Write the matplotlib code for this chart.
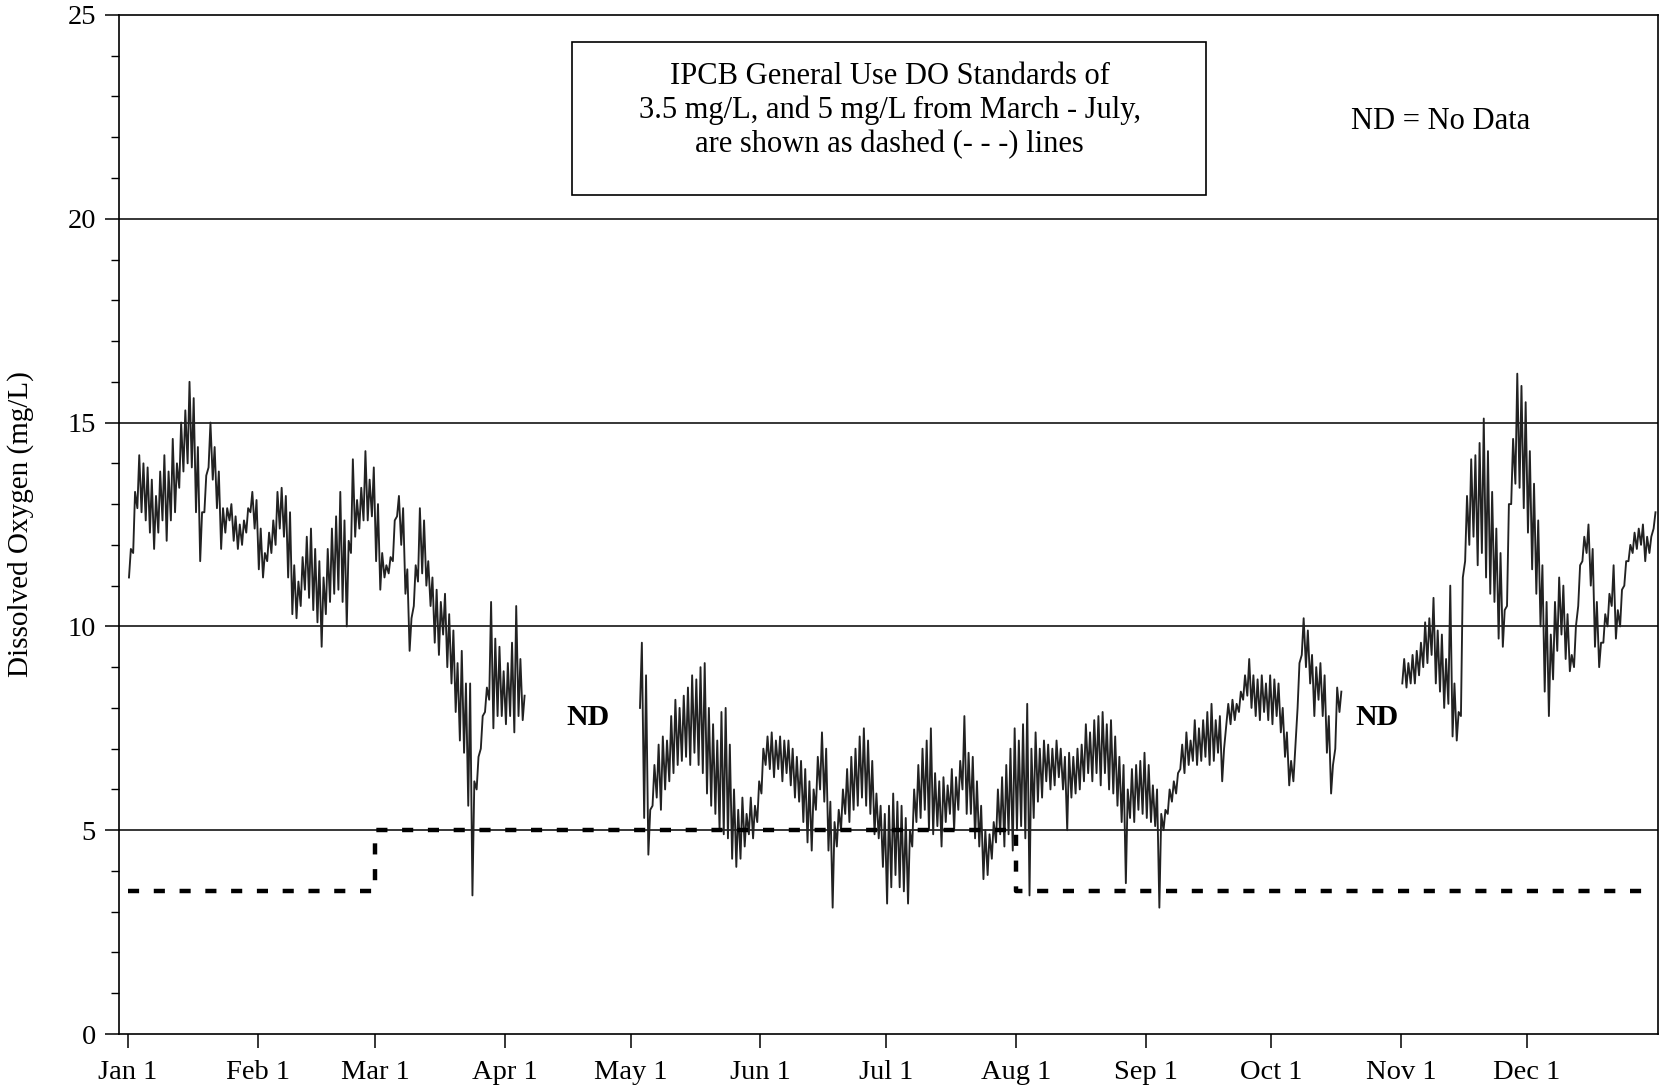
import numpy as np
import matplotlib
matplotlib.use("Agg")
import matplotlib.pyplot as plt
from matplotlib.patches import Rectangle

plt.rcParams['font.family'] = ['Liberation Serif', 'DejaVu Serif']

# ---- data: daily low / high dissolved oxygen (mg/L) ----
seg1_start = 0      # Jan 1
seg1_low = [11.2, 11.8, 12.9, 12.8, 12.6, 12.3, 11.9, 12.3, 12.6, 12.1,
            12.6, 12.8, 13.4, 13.8, 14.0, 13.9, 12.8, 11.6, 12.8, 13.9,
            13.6, 12.9, 11.9, 12.3, 12.6, 12.1, 11.9, 12.0, 12.3, 12.8,
            12.4, 11.4, 11.2, 11.6, 11.8, 12.0, 12.4, 12.2, 11.2, 10.3,
            10.2, 10.5, 10.9, 10.7, 10.4, 10.1, 9.5, 10.3, 10.6, 10.8,
            10.9, 10.6, 10.0, 11.8, 12.2, 12.4, 12.6, 12.6, 12.7, 11.6,
            10.9, 11.2, 11.3, 11.6, 12.7, 12.0, 10.8, 9.4, 10.5, 11.1,
            11.3, 11.0, 10.5, 9.6, 9.3, 9.8, 9.0, 8.6, 7.9, 7.2,
            6.9, 5.6, 3.4, 6.0, 7.0, 7.9, 8.2, 7.5, 7.8, 7.8,
            7.6, 7.8, 7.4, 7.8, 7.7]
seg1_high = [11.9, 13.3, 14.2, 14.0, 13.9, 13.6, 13.2, 13.8, 14.2, 13.8,
             14.6, 14.0, 15.0, 15.3, 16.0, 15.6, 14.4, 12.8, 13.7, 15.0,
             14.4, 13.8, 12.9, 12.9, 13.0, 12.7, 12.5, 12.6, 12.9, 13.3,
             13.1, 12.4, 11.8, 12.3, 12.6, 13.3, 13.4, 13.2, 12.8, 11.5,
             11.1, 11.7, 12.2, 12.4, 11.9, 11.6, 11.2, 11.9, 12.4, 12.7,
             13.3, 12.6, 12.1, 14.1, 13.1, 13.4, 14.3, 13.6, 13.9, 13.0,
             11.8, 11.5, 11.7, 12.6, 13.2, 12.9, 11.4, 10.2, 11.5, 12.9,
             12.6, 11.6, 11.2, 10.9, 10.6, 10.8, 10.3, 9.9, 9.1, 9.4,
             8.6, 8.6, 6.2, 6.8, 7.8, 8.5, 10.6, 9.7, 9.5, 8.9,
             9.1, 9.6, 10.5, 9.2, 8.3]

seg2_start = 122    # May 3
seg2_low = [8.0, 5.3, 4.4, 5.6, 5.8, 5.5, 6.0, 6.2, 6.4, 6.6,
            6.7, 6.8, 6.6, 6.9, 6.6, 6.4, 5.9, 5.6, 5.4, 5.0,
            4.9, 4.8, 4.3, 4.1, 4.3, 4.6, 4.9, 4.8, 5.2, 5.9,
            6.6, 6.5, 6.3, 6.5, 6.2, 6.4, 6.1, 5.8, 5.7, 5.2,
            4.7, 4.5, 5.5, 6.0, 5.7, 4.5, 3.1, 4.6, 5.0, 5.4,
            5.2, 5.5, 5.6, 5.8, 5.6, 5.4, 4.9, 4.8, 4.1, 3.2,
            3.6, 3.9, 3.6, 3.5, 3.2, 4.6, 5.2, 5.3, 5.5, 5.0,
            4.9, 5.1, 4.6, 5.2, 5.4, 5.0, 5.5, 6.0, 5.4, 5.4,
            4.8, 4.6, 3.8, 3.9, 4.3, 4.7, 4.9, 4.6, 4.9, 4.5,
            5.0, 5.1, 4.8, 3.4, 5.3, 5.7, 5.8, 6.2, 6.0, 6.1,
            6.3, 6.0, 5.0, 5.8, 5.9, 6.0, 6.2, 6.4, 6.2, 6.4,
            6.1, 6.4, 6.0, 5.9, 5.6, 5.2, 3.7, 5.3, 5.2, 5.5,
            5.4, 5.3, 5.2, 5.1, 3.1, 5.0, 5.4, 5.7, 5.9, 6.5,
            6.4, 6.6, 6.7, 6.6, 6.7, 6.8, 6.6, 6.7, 6.9, 6.2,
            7.6, 7.6, 7.7, 7.9, 8.2, 8.3, 8.0, 7.8, 7.7, 7.9,
            7.7, 7.6, 7.8, 7.4, 6.8, 6.1, 6.2, 8.0, 9.3, 9.0,
            8.6, 7.8, 8.2, 7.8, 6.9, 5.9, 7.0, 7.9]
seg2_high = [9.6, 8.8, 5.5, 6.6, 7.1, 7.3, 7.2, 7.8, 8.2, 8.0,
             8.3, 8.5, 8.8, 8.7, 9.0, 9.1, 8.0, 7.6, 7.2, 7.9,
             8.0, 7.1, 6.0, 5.5, 5.8, 5.4, 5.8, 5.6, 6.2, 7.0,
             7.3, 7.4, 7.2, 7.3, 7.2, 7.2, 7.0, 6.8, 6.7, 6.5,
             6.2, 6.0, 6.8, 7.4, 7.0, 5.7, 5.2, 5.5, 6.0, 6.5,
             6.8, 7.0, 7.3, 7.5, 7.2, 6.7, 5.9, 5.6, 5.4, 5.6,
             5.9, 5.7, 5.6, 5.3, 5.0, 6.0, 6.6, 7.0, 7.2, 7.5,
             6.4, 6.2, 6.3, 6.1, 6.5, 6.3, 6.7, 7.8, 6.9, 6.8,
             6.2, 5.6, 5.0, 4.9, 5.2, 6.0, 6.3, 6.6, 7.0, 7.5,
             7.2, 7.6, 8.1, 7.0, 7.4, 7.0, 7.2, 7.1, 7.0, 7.2,
             7.0, 6.8, 6.9, 6.8, 7.0, 7.1, 7.6, 7.4, 7.7, 7.8,
             7.9, 7.6, 7.7, 7.3, 6.8, 6.6, 6.0, 6.5, 6.6, 6.7,
             6.9, 6.6, 6.1, 6.0, 5.4, 5.5, 6.0, 6.2, 6.4, 7.1,
             7.4, 7.2, 7.7, 7.5, 7.7, 7.9, 8.1, 7.7, 7.8, 7.0,
             8.1, 8.2, 8.1, 8.4, 8.8, 9.2, 8.8, 8.7, 8.8, 8.6,
             8.8, 8.7, 8.6, 8.0, 7.4, 6.7, 7.0, 9.1, 10.2, 9.9,
             9.3, 9.0, 9.1, 8.8, 7.8, 6.6, 8.5, 8.4]

seg3_start = 304    # Nov 1
seg3_low = [8.6, 8.5, 8.6, 8.6, 8.8, 9.0, 9.1, 9.3, 8.6, 8.4,
            8.0, 8.1, 7.3, 7.2, 7.8, 11.6, 12.0, 12.2, 11.5, 11.8,
            11.2, 10.8, 10.6, 9.7, 9.5, 10.5, 13.0, 13.5, 13.4, 12.9,
            12.3, 11.4, 10.8, 10.0, 8.4, 7.8, 8.7, 9.4, 9.8, 9.2,
            8.9, 9.0, 10.5, 11.6, 11.8, 11.0, 9.5, 9.0, 9.6, 10.0,
            10.5, 9.7, 10.0, 11.0, 11.6, 11.8, 11.9, 12.0, 11.6, 11.8,
            12.4]
seg3_high = [9.2, 9.1, 9.3, 9.4, 9.6, 10.1, 10.2, 10.7, 9.9, 9.8,
             9.2, 11.0, 8.6, 7.9, 11.2, 13.2, 14.1, 14.2, 14.5, 15.1,
             14.3, 13.3, 12.4, 11.8, 10.4, 13.0, 14.6, 16.2, 15.9, 15.5,
             14.3, 13.5, 12.6, 11.5, 10.6, 9.8, 10.6, 11.2, 11.0, 10.3,
             9.3, 10.0, 11.5, 12.2, 12.5, 11.9, 10.6, 9.6, 10.3, 10.8,
             11.5, 10.4, 10.9, 11.6, 12.0, 12.3, 12.4, 12.5, 12.2, 12.2,
             12.8]

# IPCB standard (step line): day-of-year breakpoints and levels
std_days = [0, 59, 59, 212, 212, 362]
std_vals = [3.5, 3.5, 5.0, 5.0, 3.5, 3.5]

month_days = [0, 31, 59, 90, 120, 151, 181, 212, 243, 273, 304, 334]
month_labels = ['Jan 1', 'Feb 1', 'Mar 1', 'Apr 1', 'May 1', 'Jun 1',
                'Jul 1', 'Aug 1', 'Sep 1', 'Oct 1', 'Nov 1', 'Dec 1']
y_ticks = [0, 5, 10, 15, 20, 25]
grid_levels = [5, 10, 15, 20]

# ---- figure ----
fig = plt.figure(figsize=(16.61, 10.92), dpi=100)
ax = fig.add_axes([0.0716, 0.0531, 0.9266, 0.9332])


def diel_series(start, low, high):
    xs, ys = [], []
    for i, (lo, hi) in enumerate(zip(low, high)):
        d = start + i
        xs += [d + 0.25, d + 0.7]
        ys += [lo, hi]
    return xs, ys


for st, lo, hi in [(seg1_start, seg1_low, seg1_high),
                   (seg2_start, seg2_low, seg2_high),
                   (seg3_start, seg3_low, seg3_high)]:
    xs, ys = diel_series(st, lo, hi)
    ax.plot(xs, ys, color='#222222', lw=1.35, zorder=3)

for g in grid_levels:
    ax.axhline(g, color='black', lw=1.1, zorder=1)

ax.plot(std_days, std_vals, color='black', lw=3.2, dashes=(2.5, 3.3), zorder=4)

ax.set_xlim(-2.15, 365.3)
ax.set_ylim(0, 25)
ax.set_xticks(month_days)
ax.set_xticklabels(month_labels)
ax.set_yticks(y_ticks)
ax.set_yticks(np.arange(0, 26, 1), minor=True)
ax.tick_params(axis='both', which='major', direction='out', length=10, width=1.1,
               labelsize=20.5, colors='black')
ax.tick_params(axis='y', which='major', pad=6.5)
ax.tick_params(axis='y', which='minor', direction='out', length=6, width=1.0)
ax.tick_params(axis='x', which='major', pad=9)
for s in ax.spines.values():
    s.set_linewidth(1.2)
    s.set_color('black')

ax.set_ylabel('Dissolved Oxygen (mg/L)', fontsize=21)
ax.yaxis.label.set_verticalalignment('center')
ax.yaxis.set_label_coords(-0.0637, 0.5)

# annotation box
ax.add_patch(Rectangle((0.2943, 0.8234), 0.4117, 0.1497, transform=ax.transAxes,
                       fill=False, edgecolor='black', lw=1.2, zorder=5))
ax.text(0.5008, 0.9062, 'IPCB General Use DO Standards of\n'
        '3.5 mg/L, and 5 mg/L from March - July,\n'
        'are shown as dashed (- - -) lines',
        transform=ax.transAxes, ha='center', va='center', fontsize=22,
        linespacing=1.21)

ax.text(0.8590, 0.8951, 'ND = No Data', transform=ax.transAxes,
        ha='center', va='center', fontsize=22)
ax.text(0.3046, 0.3105, 'ND', transform=ax.transAxes, ha='center', va='center',
        fontsize=21.5, fontweight='bold')
ax.text(0.8175, 0.3105, 'ND', transform=ax.transAxes, ha='center', va='center',
        fontsize=21.5, fontweight='bold')

fig.savefig('out.png', dpi=100)
